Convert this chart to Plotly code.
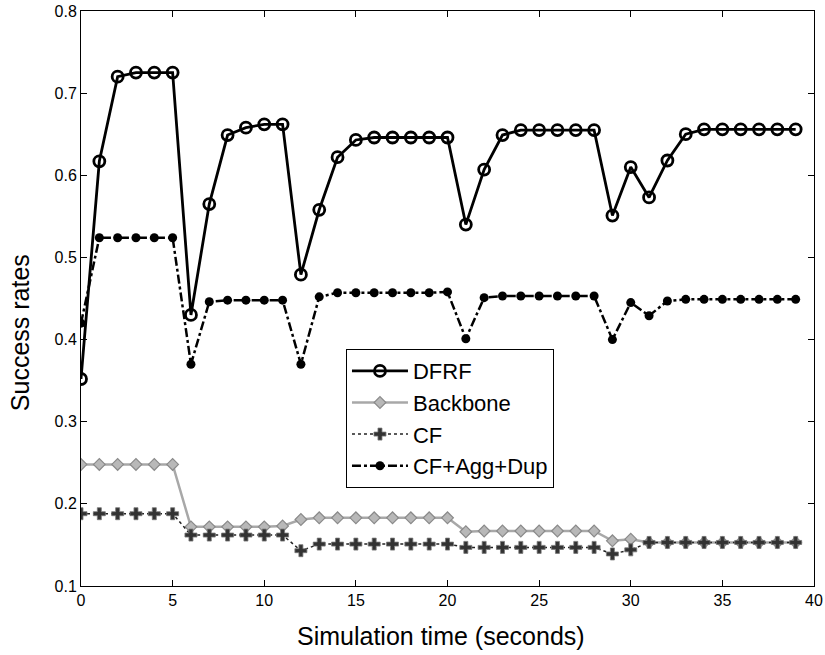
import plotly.graph_objects as go

# Simulation time steps (seconds)
time_s = list(range(40))

dfrf = [0.352, 0.617, 0.720, 0.725, 0.725, 0.725, 0.430, 0.565, 0.649, 0.658,
        0.662, 0.662, 0.479, 0.558, 0.622, 0.643, 0.646, 0.646, 0.646, 0.646,
        0.646, 0.540, 0.607, 0.649, 0.655, 0.655, 0.655, 0.655, 0.655, 0.551,
        0.610, 0.573, 0.618, 0.650, 0.656, 0.656, 0.656, 0.656, 0.656, 0.656]

backbone = [0.248, 0.248, 0.248, 0.248, 0.248, 0.248, 0.172, 0.172, 0.172, 0.172,
            0.172, 0.173, 0.181, 0.183, 0.183, 0.183, 0.183, 0.183, 0.183, 0.183,
            0.183, 0.166, 0.167, 0.167, 0.167, 0.167, 0.167, 0.167, 0.167, 0.155,
            0.157, 0.153, 0.153, 0.153, 0.153, 0.153, 0.153, 0.153, 0.153, 0.153]

cf = [0.188, 0.188, 0.188, 0.188, 0.188, 0.188, 0.162, 0.162, 0.162, 0.162,
      0.162, 0.162, 0.143, 0.151, 0.151, 0.151, 0.151, 0.151, 0.151, 0.151,
      0.151, 0.147, 0.147, 0.147, 0.147, 0.147, 0.147, 0.147, 0.147, 0.139,
      0.144, 0.153, 0.153, 0.153, 0.153, 0.153, 0.153, 0.153, 0.153, 0.153]

cf_agg_dup = [0.420, 0.524, 0.524, 0.524, 0.524, 0.524, 0.370, 0.446, 0.448, 0.448,
              0.448, 0.448, 0.370, 0.452, 0.457, 0.457, 0.457, 0.457, 0.457, 0.457,
              0.458, 0.401, 0.451, 0.453, 0.453, 0.453, 0.453, 0.453, 0.453, 0.400,
              0.445, 0.429, 0.447, 0.449, 0.449, 0.449, 0.449, 0.449, 0.449, 0.449]

x_ticks = [0, 5, 10, 15, 20, 25, 30, 35, 40]
y_ticks = [0.1, 0.2, 0.3, 0.4, 0.5, 0.6, 0.7, 0.8]

FONT = "Liberation Sans, Arial, Helvetica, sans-serif"

fig = go.Figure()

# lighter series first so the DFRF curve sits on top; legendrank fixes legend order
fig.add_trace(go.Scatter(
    x=time_s, y=backbone, name="Backbone", mode="lines+markers", legendrank=2,
    line=dict(color="#a8a8a8", width=2.5),
    marker=dict(symbol="diamond", size=9, color="#b8b8b8",
                line=dict(color="#8a8a8a", width=1.2)),
))
fig.add_trace(go.Scatter(
    x=time_s, y=cf, name="CF", mode="lines+markers", legendrank=3,
    line=dict(color="#222222", width=1.5, dash="dot"),
    marker=dict(symbol="cross", size=10, color="#333333",
                line=dict(color="#777777", width=0.8)),
))
fig.add_trace(go.Scatter(
    x=time_s, y=cf_agg_dup, name="CF+Agg+Dup", mode="lines+markers", legendrank=4,
    line=dict(color="black", width=2.5, dash="dashdot"),
    marker=dict(symbol="circle", size=9, color="black"),
))
fig.add_trace(go.Scatter(
    x=time_s, y=dfrf, name="DFRF", mode="lines+markers", legendrank=1,
    line=dict(color="black", width=2.8),
    marker=dict(symbol="circle-open", size=11, color="black",
                line=dict(color="black", width=2.8)),
))

fig.update_layout(
    width=825, height=655,
    margin=dict(l=81, r=11, t=11, b=69),
    paper_bgcolor="white", plot_bgcolor="white",
    font=dict(family=FONT, color="black", size=15),
    legend=dict(
        x=0.3615, y=0.412, xanchor="left", yanchor="top",
        font=dict(family=FONT, size=22, color="black"),
        bgcolor="white", bordercolor="black", borderwidth=1,
        itemwidth=56, tracegroupgap=0,
    ),
    showlegend=True,
    annotations=[
        dict(text="Simulation time (seconds)", xref="paper", yref="paper",
             x=0.4918, y=-0.0877, xanchor="center", yanchor="middle",
             showarrow=False, font=dict(size=25)),
        dict(text="Success rates", xref="paper", yref="paper",
             x=-0.083, y=0.44, xanchor="center", yanchor="middle",
             textangle=-90, showarrow=False, font=dict(size=25)),
    ],
)

fig.update_xaxes(
    range=[0, 40], tickvals=x_ticks, ticktext=[str(v) for v in x_ticks],
    showgrid=False, zeroline=False, showline=True, linecolor="black",
    linewidth=1, mirror="ticks", ticks="inside", ticklen=6, tickcolor="black",
    tickfont=dict(size=16), automargin=False,
)
fig.update_yaxes(
    range=[0.1, 0.8], tickvals=y_ticks, ticktext=[f"{v:.1f}" for v in y_ticks],
    showgrid=False, zeroline=False, showline=True, linecolor="black",
    linewidth=1, mirror="ticks", ticks="inside", ticklen=6, tickcolor="black",
    tickfont=dict(size=16), automargin=False,
)

fig.write_html("out.html")
